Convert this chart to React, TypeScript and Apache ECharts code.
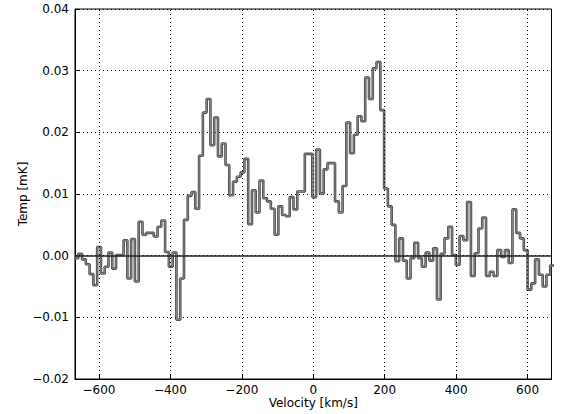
import React, { useEffect, useRef } from "react";
import * as echarts from "echarts";

// Spectrum channels: left edge of the first channel and channel width (km/s)
const CHANNEL_START = -668.4;
const CHANNEL_WIDTH = 10.57;

// Brightness temperature per channel [mK]
const temps: number[] = [
  -0.0004, 0.0003, -0.0006, -0.0014, -0.003, -0.0048, 0.0014, -0.0029, -0.0018, 0.0005,
  -0.0021, 0.0001, 0.0001, 0.0025, -0.0037, 0.0027, -0.0042, 0.0055, 0.0034, 0.0037,
  0.0037, 0.0031, 0.0047, 0.0057, 0.0006, -0.0018, 0.0005, -0.0104, -0.0037, 0.0058,
  0.0097, 0.0103, 0.0076, 0.0162, 0.0232, 0.0254, 0.0179, 0.0224, 0.0161, 0.0182,
  0.0147, 0.0098, 0.012, 0.0128, 0.0135, 0.0157, 0.0051, 0.0106, 0.007, 0.0122,
  0.0093, 0.0088, 0.0076, 0.0034, 0.008, 0.0066, 0.0064, 0.0095, 0.0075, 0.0104,
  0.0104, 0.0165, 0.0165, 0.0095, 0.0172, 0.0101, 0.014, 0.015, 0.015, 0.0088,
  0.007, 0.0113, 0.0216, 0.0166, 0.0196, 0.0226, 0.0218, 0.0289, 0.0254, 0.0304,
  0.0314, 0.0236, 0.0109, 0.008, 0.005, -0.0009, 0.0028, -0.0008, -0.0037, -0.0004,
  0.0021, -0.0004, -0.0018, 0.0005, -0.0008, 0.0012, -0.0071, 0.0003, 0.0028, 0.0047,
  0.0001, -0.0015, 0.0032, 0.0025, 0.0087, -0.0033, 0.0004, 0.0044, 0.0062, -0.0033,
  -0.0026, -0.0033, 0.0009, -0.0002, 0.0009, -0.0012, 0.0075, 0.0037, 0.0028, 0.0009,
  -0.0055, -0.0045, -0.0006, -0.0031, -0.005, -0.0031, -0.0016,
];

const xTicks = [-600, -400, -200, 0, 200, 400, 600];
const X_MIN = -667;
const X_MAX = 667;
const Y_MIN = -0.02;
const Y_MAX = 0.04;
const Y_STEP = 0.01;

const minus = (s: string) => s.replace("-", "\u2212");

export default function App() {
  const ref = useRef<HTMLDivElement>(null);

  useEffect(() => {
    if (!ref.current) return;
    const chart = echarts.init(ref.current, null, { renderer: "svg" });

    // step outline: each channel is a flat segment between its edges
    const stepData: [number, number][] = [];
    temps.forEach((t, i) => {
      const lo = CHANNEL_START + i * CHANNEL_WIDTH;
      const hi = lo + CHANNEL_WIDTH;
      stepData.push([lo, t]);
      stepData.push([hi, t]);
    });

    const font = "DejaVu Sans";

    chart.setOption({
      animation: false,
      backgroundColor: "#fff",
      grid: {
        left: 75,
        right: 10.5,
        top: 9,
        bottom: 35,
        containLabel: false,
        outerBoundsMode: "none",
        show: true,
        borderColor: "#000",
        borderWidth: 1,
        backgroundColor: "transparent",
      },
      xAxis: {
        type: "value",
        min: X_MIN,
        max: X_MAX,
        name: "Velocity [km/s]",
        nameLocation: "middle",
        nameGap: 18,
        nameMoveOverlap: false,
        nameTextStyle: { fontFamily: font, fontSize: 12, color: "#000" },
        axisLine: { show: true, onZero: false, lineStyle: { color: "#000", width: 1 } },
        axisTick: {
          show: true,
          inside: true,
          length: 4,
          customValues: xTicks,
          lineStyle: { color: "#000" },
        },
        axisLabel: {
          customValues: xTicks,
          fontFamily: font,
          fontSize: 12,
          color: "#000",
          margin: 5,
          formatter: (v: number) => minus(String(v)),
        },
        splitLine: { show: false },
      },
      yAxis: {
        type: "value",
        min: Y_MIN,
        max: Y_MAX,
        interval: Y_STEP,
        name: "Temp [mK]",
        nameLocation: "middle",
        nameGap: 46,
        nameMoveOverlap: false,
        nameTextStyle: { fontFamily: font, fontSize: 12, color: "#000" },
        axisLine: { show: true, onZero: false, lineStyle: { color: "#000", width: 1 } },
        axisTick: { show: true, inside: true, length: 4, lineStyle: { color: "#000" } },
        axisLabel: {
          fontFamily: font,
          fontSize: 12,
          color: "#000",
          margin: 6,
          formatter: (v: number) => minus(v.toFixed(2)),
        },
        splitLine: {
          show: true,
          lineStyle: { color: "#000", type: [1, 3], width: 1 },
        },
      },
      series: [
        {
          type: "line",
          data: stepData,
          showSymbol: false,
          symbol: "none",
          lineStyle: { color: "#4a4a4a", width: 2.6 },
          z: 3,
          silent: true,
          markLine: {
            silent: true,
            symbol: "none",
            label: { show: false },
            data: xTicks.map((x) => ({
              xAxis: x,
              lineStyle: { color: "#000", type: [1, 3], width: 1 },
            })),
          },
        },
        {
          type: "line",
          data: stepData,
          showSymbol: false,
          symbol: "none",
          lineStyle: { color: "#8f8f8f", width: 0.9 },
          z: 4,
          silent: true,
          markLine: {
            silent: true,
            symbol: "none",
            label: { show: false },
            data: [{ yAxis: 0, lineStyle: { color: "#222", type: "solid", width: 1.6 } }],
          },
        },
      ],
    });

    return () => chart.dispose();
  }, []);

  return (
    <div
      ref={ref}
      style={{ position: "fixed", left: 0, top: 0, width: 562, height: 414, background: "#fff" }}
    />
  );
}
